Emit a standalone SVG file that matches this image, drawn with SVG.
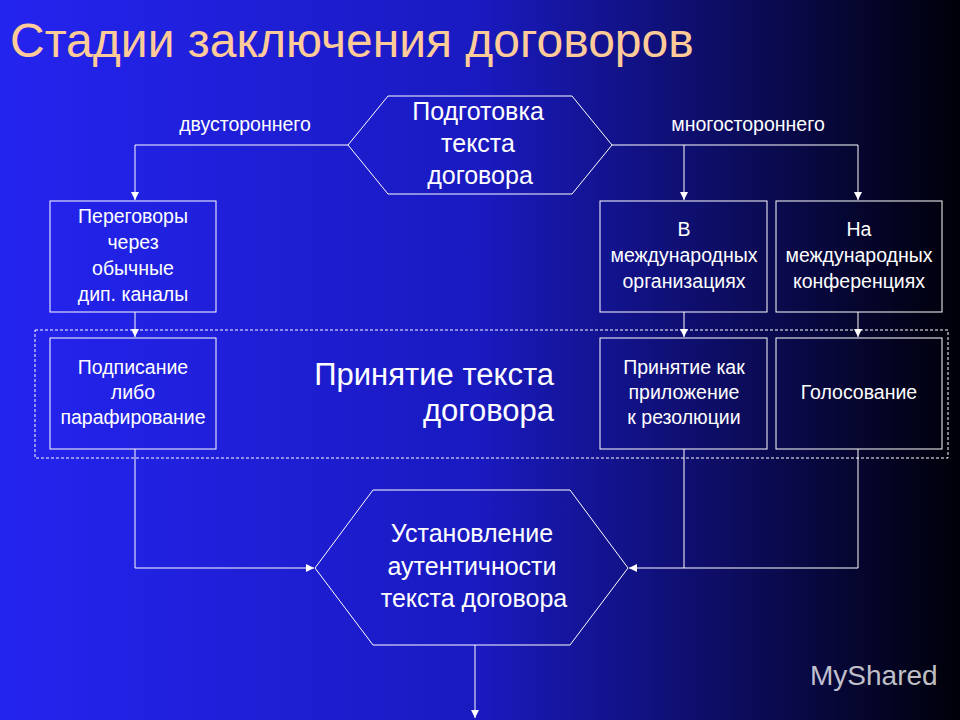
<svg xmlns="http://www.w3.org/2000/svg" width="960" height="720" viewBox="0 0 960 720">
<defs>
<linearGradient id="bg" x1="0" y1="0" x2="1" y2="0">
<stop offset="0" stop-color="#2424f0"/><stop offset="0.5" stop-color="#1a1ac0"/><stop offset="1" stop-color="#000008"/>
</linearGradient>
<marker id="ar" viewBox="0 0 10 10" refX="10" refY="5" markerWidth="8" markerHeight="8" orient="auto" markerUnits="userSpaceOnUse"><path d="M0,0 L10,5 L0,10 z" fill="#fff"/></marker>
</defs>
<style>
.bx{fill:none;stroke:#fff;stroke-width:1}
.t{font-family:"Liberation Sans",Arial,sans-serif;fill:#fff;text-anchor:middle}
.s{font-size:19.5px}
.b{font-size:25px}
.c{fill:none;stroke:#fff;stroke-width:1}
</style>
<rect width="960" height="720" fill="url(#bg)"/>
<text x="10" y="57" font-family="Liberation Sans,Arial,sans-serif" font-size="48" fill="#ffcc99">Стадии заключения договоров</text>
<text class="t s" x="245" y="131">двустороннего</text>
<text class="t s" x="748" y="131">многостороннего</text>
<g id="connectors">
<path class="c" d="M348,145 H135 V200" marker-end="url(#ar)"/>
<path class="c" d="M612,145 H858 V200" marker-end="url(#ar)"/>
<path class="c" d="M684,145 V200" marker-end="url(#ar)"/>
<path class="c" d="M135,312 V337" marker-end="url(#ar)"/>
<path class="c" d="M684,312 V337" marker-end="url(#ar)"/>
<path class="c" d="M858,312 V337" marker-end="url(#ar)"/>
<path class="c" d="M135,449 V568 H314" marker-end="url(#ar)"/>
<path class="c" d="M684,449 V568"/>
<path class="c" d="M858,449 V568 H629" marker-end="url(#ar)"/>
<path class="c" d="M475,645 V718" marker-end="url(#ar)"/>
</g>
<rect x="35" y="330" width="913" height="128" fill="none" stroke="#fff" stroke-dasharray="3,2"/>
<g id="prep"><polygon class="bx" points="348,145 388,96 572,96 612,145 572,194 388,194"/>
<text class="t b" x="478" y="120">Подготовка</text><text class="t b" x="478" y="152">текста</text><text class="t b" x="480" y="184">договора</text></g>
<g id="n1"><rect class="bx" x="50" y="201" width="166" height="111"/>
<text class="t s" x="133" y="223">Переговоры</text><text class="t s" x="133" y="249">через</text><text class="t s" x="133" y="275">обычные</text><text class="t s" x="133" y="301">дип. каналы</text></g>
<g id="n2"><rect class="bx" x="600" y="201" width="167" height="111"/>
<text class="t s" x="684" y="236">В</text><text class="t s" x="684" y="262">международных</text><text class="t s" x="684" y="288">организациях</text></g>
<g id="n3"><rect class="bx" x="776" y="201" width="166" height="111"/>
<text class="t s" x="859" y="236">На</text><text class="t s" x="859" y="262">международных</text><text class="t s" x="859" y="288">конференциях</text></g>
<g id="n4"><rect class="bx" x="50" y="338" width="166" height="111"/>
<text class="t s" x="133" y="374">Подписание</text><text class="t s" x="133" y="399">либо</text><text class="t s" x="133" y="424">парафирование</text></g>
<g id="n5"><rect class="bx" x="600" y="338" width="167" height="111"/>
<text class="t s" x="684" y="374">Принятие как</text><text class="t s" x="684" y="399">приложение</text><text class="t s" x="684" y="424">к резолюции</text></g>
<g id="n6"><rect class="bx" x="776" y="338" width="166" height="111"/>
<text class="t s" x="859" y="399">Голосование</text></g>
<g id="lbl"><text class="t" style="text-anchor:end;font-size:31px" x="554" y="385">Принятие текста</text>
<text class="t" style="text-anchor:end;font-size:31px" x="554" y="421">договора</text></g>
<g id="auth"><polygon class="bx" points="315,568 373,490 570,490 628,568 570,645 373,645"/>
<text class="t b" x="472" y="542">Установление</text><text class="t b" x="472" y="575">аутентичности</text><text class="t b" x="474" y="607">текста договора</text></g>
<text x="810" y="685" font-family="Liberation Sans,Arial,sans-serif" font-size="28" fill="#ffffff" fill-opacity="0.75">MyShared</text>
</svg>
